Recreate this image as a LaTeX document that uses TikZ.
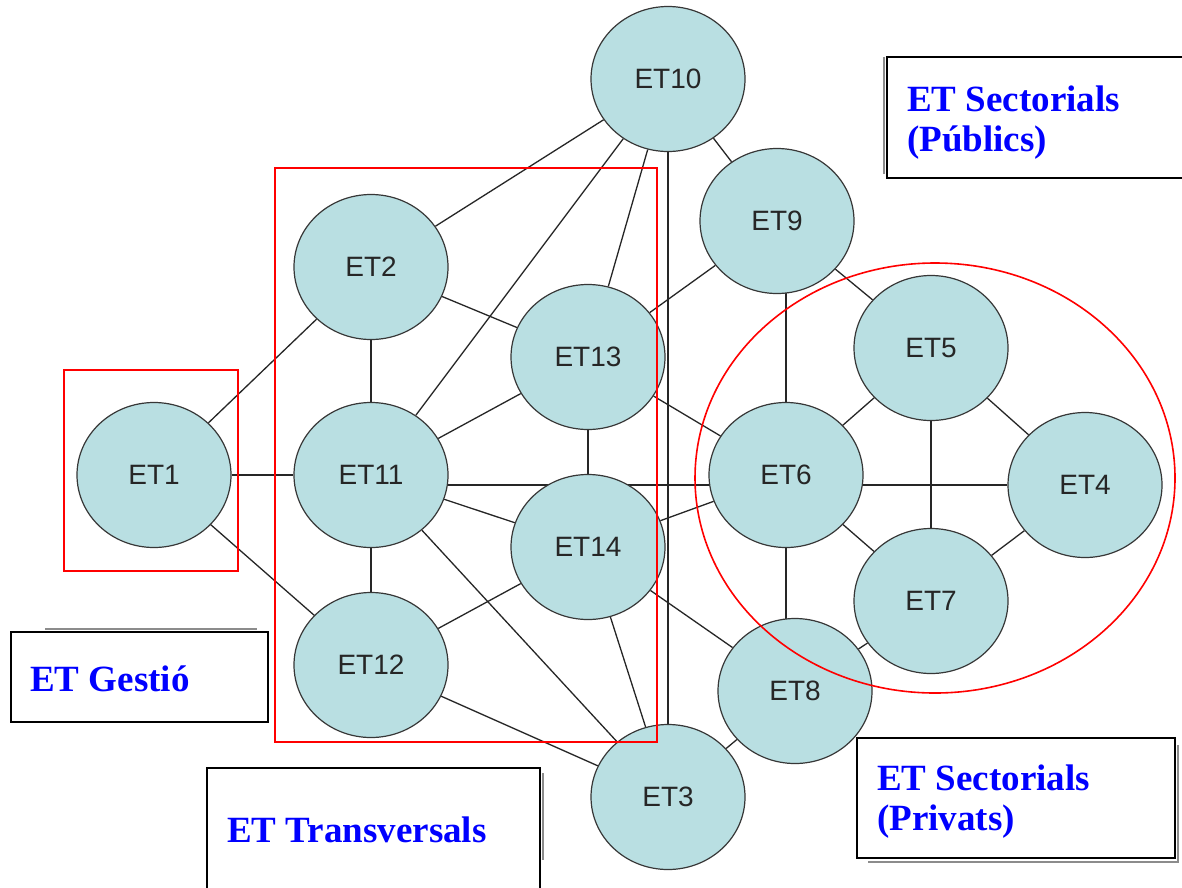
\documentclass[tikz,border=0pt]{standalone}
\usepackage{fontspec}
\setmainfont{Liberation Serif}
\newfontfamily\nodefont{Liberation Sans}
\usetikzlibrary{shapes.geometric,backgrounds}
\definecolor{nodefill}{RGB}{185,223,226}
\definecolor{nodeline}{RGB}{55,55,55}
\definecolor{grpred}{RGB}{255,0,0}
\definecolor{lblblue}{RGB}{0,0,255}
\begin{document}
\begin{tikzpicture}[x=1pt,y=-1pt,
  etnode/.style={ellipse, draw=nodeline, line width=1.2pt, fill=nodefill,
    minimum width=154pt, minimum height=145pt, inner sep=0pt,
    font=\nodefont\fontsize{28}{30}\selectfont, text=black!85},
  link/.style={draw=black!85, line width=1.3pt},
  grp/.style={draw=grpred, line width=1.6pt},
  lblbox/.style={draw=black, line width=1.8pt, fill=white},
  lbltext/.style={anchor=base west, text=lblblue, inner sep=0pt,
    font=\bfseries\fontsize{37}{40}\selectfont},
  shadowline/.style={draw=black!45, line width=1.4pt}]
\useasboundingbox (0,0) rectangle (1182,887);

% nodes
\node[etnode] (ET1)  at (154,475)  {ET1};
\node[etnode] (ET2)  at (371,267)  {ET2};
\node[etnode] (ET10) at (668,79)   {ET10};
\node[etnode] (ET13) at (588,357)  {ET13};
\node[etnode] (ET11) at (371,475)  {ET11};
\node[etnode] (ET14) at (588,547)  {ET14};
\node[etnode] (ET12) at (371,665)  {ET12};
\node[etnode] (ET3)  at (668,797)  {ET3};
\node[etnode] (ET9)  at (777,221)  {ET9};
\node[etnode] (ET5)  at (931,348)  {ET5};
\node[etnode] (ET6)  at (786,475)  {ET6};
\node[etnode] (ET4)  at (1085,485) {ET4};
\node[etnode] (ET7)  at (931,601)  {ET7};
\node[etnode] (ET8)  at (795,691)  {ET8};

% connectors behind the nodes
\begin{scope}[on background layer]
  \fill[white] (0,0) rectangle (1182,887);
  \draw[link] (ET1) -- (ET2);
  \draw[link] (ET1) -- (ET11);
  \draw[link] (ET1) -- (ET12);
  \draw[link] (ET2) -- (ET10);
  \draw[link] (ET2) -- (ET11);
  \draw[link] (ET2) -- (ET13);
  \draw[link] (ET10) -- (ET11);
  \draw[link] (ET10) -- (ET13);
  \draw[link] (ET10) -- (ET3);
  \draw[link] (ET10) -- (ET9);
  \draw[link] (ET9) -- (ET13);
  \draw[link] (ET6 |- ET9) -- (ET6);
  \draw[link] (ET9) -- (ET5);
  \draw[link] (ET13) -- (ET11);
  \draw[link] (ET13) -- (ET14);
  \draw[link] (ET13) -- (ET6);
  \draw[link] (ET11 |- ET4) -- (ET6 |- ET4);
  \draw[link] (ET6 |- ET4) -- (ET4);
  \draw[link] (ET11) -- (ET12);
  \draw[link] (ET11) -- (ET14);
  \draw[link] (ET11) -- (ET3);
  \draw[link] (ET14) -- (ET12);
  \draw[link] (ET14) -- (ET6);
  \draw[link] (ET14) -- (ET8);
  \draw[link] (ET14) -- (ET3);
  \draw[link] (ET12) -- (ET3);
  \draw[link] (ET6) -- (ET5);
  \draw[link] (ET6) -- (ET7);
  \draw[link] (ET6) -- (ET6 |- ET8);
  \draw[link] (ET5) -- (ET7);
  \draw[link] (ET5) -- (ET4);
  \draw[link] (ET7) -- (ET4);
  \draw[link] (ET7) -- (ET8);
  \draw[link] (ET8) -- (ET3);
\end{scope}

% red groupings
\draw[grp] (64,370) rectangle (238,571);
\draw[grp] (275,168) rectangle (657,742);
\draw[grp] (935,478) ellipse [x radius=240, y radius=215];

% label boxes
\draw[shadowline] (884,57) -- (884,174);
\draw[lblbox] (887,57) rectangle (1192,178);
\node[lbltext] (pubA) at (907,111) {ET Sectorials};
\node[lbltext] (pubB) at (907,151) {(Públics)};

\draw[shadowline] (45,629) -- (257,629);
\draw[lblbox] (11,632) rectangle (268,722);
\node[lbltext] (gest) at (30,691) {ET Gestió};

\draw[shadowline] (543,773) -- (543,860);
\draw[lblbox] (207,768) rectangle (540,897);
\node[lbltext] (trans) at (227,842) {ET Transversals};

\draw[shadowline] (868,862) -- (1178,862) -- (1178,745);
\draw[lblbox] (857,738) rectangle (1175,858);
\node[lbltext] (privA) at (877,790) {ET Sectorials};
\node[lbltext] (privB) at (877,830) {(Privats)};
\end{tikzpicture}
\end{document}
